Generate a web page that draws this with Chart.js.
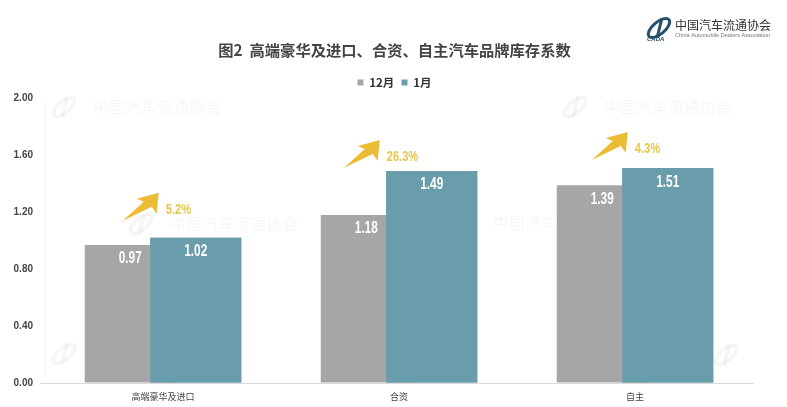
<!DOCTYPE html>
<html>
<head>
<meta charset="utf-8">
<style>
  html, body { margin: 0; padding: 0; background: #fff; }
  canvas { display: block; }
</style>
<script src="https://cdn.jsdelivr.net/npm/chart.js@4/dist/chart.umd.min.js"></script>
</head>
<body>
<canvas id="stockChart" width="787" height="407"></canvas>
<script>
const categories = ['高端豪华及进口', '合资', '自主'];
const dec = [0.97, 1.18, 1.39];
const jan = [1.02, 1.49, 1.51];
const changes = ['5.2%', '26.3%', '4.3%'];
const yTicks = [0, 0.4, 0.8, 1.2, 1.6, 2.0];

const GRAY = '#a6a6a6';
const TEAL = '#6a9dab';
const CJK = '"Noto Sans CJK SC", "Noto Sans", sans-serif';
const LATIN = '"Liberation Sans", sans-serif';

// arrow tip, relative to the top of the 1月 bar
const arrowOffsets = [[-37, -45], [-52, -31], [-40, -36]];
// faint watermarks behind the bars
const watermarks = [[50, 107], [561, 107], [127, 224], [450, 223], [50, 354]];
const watermarkLogos = [[712, 355]];

// the labels in the picture are a condensed bold face
function condensedText(ctx, text, x, y, align) {
  ctx.save();
  ctx.translate(x, y);
  ctx.scale(0.74, 1);
  ctx.textAlign = align;
  ctx.textBaseline = 'middle';
  ctx.fillText(text, 0, 0);
  ctx.restore();
}

function drawArrow(ctx, x, y) {
  ctx.beginPath();
  ctx.moveTo(x, y);
  ctx.lineTo(x - 2, y + 21);
  ctx.lineTo(x - 7, y + 14);
  ctx.lineTo(x - 36, y + 28);
  ctx.lineTo(x - 15, y + 9);
  ctx.lineTo(x - 22, y + 6);
  ctx.closePath();
  ctx.fillStyle = '#ecbc37';
  ctx.fill();
}

function drawSwoosh(ctx, x, y, color, lineWidth) {
  ctx.save();
  ctx.strokeStyle = color;
  ctx.lineWidth = lineWidth;
  ctx.beginPath();
  ctx.ellipse(x, y, 13, 6, -0.7, 0, Math.PI * 2);
  ctx.stroke();
  ctx.beginPath();
  ctx.moveTo(x - 2, y + 10);
  ctx.lineTo(x + 3, y - 10);
  ctx.stroke();
  ctx.restore();
}

// watermark sits under the bars
const watermarkPlugin = {
  id: 'watermark',
  beforeDatasetsDraw(chart) {
    const ctx = chart.ctx;
    ctx.save();
    ctx.textBaseline = 'middle';
    ctx.textAlign = 'left';
    ctx.font = '16px ' + CJK;
    ctx.fillStyle = 'rgba(0,0,0,0.035)';
    watermarks.forEach(function(w) {
      drawSwoosh(ctx, w[0] + 14, w[1], 'rgba(0,0,0,0.035)', 4);
      ctx.fillText('中国汽车流通协会', w[0] + 43, w[1]);
    });
    watermarkLogos.forEach(function(w) {
      drawSwoosh(ctx, w[0] + 14, w[1], 'rgba(0,0,0,0.035)', 4);
    });
    ctx.restore();
  }
};

const overlayPlugin = {
  id: 'overlay',
  afterDatasetsDraw(chart) {
    const ctx = chart.ctx;
    // 1月 bars have to lie over the 12月 bars
    chart.getDatasetMeta(1).controller.draw();

    ctx.save();
    ctx.font = 'bold 16px ' + LATIN;
    ctx.fillStyle = '#fff';
    [0, 1].forEach(function(i) {
      const values = chart.data.datasets[i].data;
      chart.getDatasetMeta(i).data.forEach(function(bar, k) {
        condensedText(ctx, values[k].toFixed(2), bar.x, bar.y + 14, 'center');
      });
    });

    chart.getDatasetMeta(1).data.forEach(function(bar, k) {
      const tipX = bar.x + arrowOffsets[k][0];
      const tipY = bar.y + arrowOffsets[k][1];
      drawArrow(ctx, tipX, tipY);
      ctx.font = 'bold 15px ' + LATIN;
      ctx.fillStyle = '#e6c84e';
      condensedText(ctx, changes[k], tipX + 7, tipY + 17, 'left');
    });
    ctx.restore();
  },
  afterDraw(chart) {
    // logo, top right
    const ctx = chart.ctx;
    ctx.save();
    drawSwoosh(ctx, 659, 28, '#24506b', 3);
    ctx.fillStyle = '#24506b';
    ctx.font = 'italic bold 6px ' + LATIN;
    ctx.textAlign = 'left';
    ctx.textBaseline = 'middle';
    ctx.fillText('CADA', 647, 39);
    ctx.fillStyle = '#333';
    ctx.font = '12px ' + CJK;
    ctx.fillText('中国汽车流通协会', 675, 25);
    ctx.fillStyle = '#777';
    ctx.font = '5.6px ' + LATIN;
    ctx.fillText('China Automobile Dealers Association', 675, 35);
    ctx.restore();
  }
};

new Chart(document.getElementById('stockChart'), {
  type: 'bar',
  data: {
    labels: categories,
    datasets: [
      { label: '12月', data: dec, backgroundColor: GRAY },
      { label: '1月', data: jan, backgroundColor: TEAL }
    ]
  },
  options: {
    responsive: false,
    animation: false,
    // barPercentage above 1 makes the two bars overlap
    categoryPercentage: 0.555,
    barPercentage: 1.39,
    layout: { padding: { top: 41, right: 0, bottom: 0, left: 2 } },
    plugins: {
      title: {
        display: true,
        text: '图2  高端豪华及进口、合资、自主汽车品牌库存系数',
        color: '#444',
        font: { family: CJK, size: 15.3, weight: 'bold' },
        padding: { top: 0, bottom: 15.5 }
      },
      legend: {
        position: 'top',
        labels: {
          boxWidth: 6,
          boxHeight: 6,
          padding: 2,
          color: '#333',
          font: { family: CJK, size: 11.5, weight: 'bold' },
          // padding is small to fit the height, spaces open the gap between the items
          generateLabels(chart) {
            return Chart.defaults.plugins.legend.labels.generateLabels(chart).map(function(item, i) {
              if (i === 0) item.text += '  ';
              return item;
            });
          }
        }
      },
      tooltip: { enabled: false }
    },
    scales: {
      x: {
        grid: { display: false },
        border: { color: '#d9d9d9' },
        afterFit(axis) { axis.height = 24; },
        ticks: { color: '#444', padding: 0, font: { family: CJK, size: 9 }, maxRotation: 0 }
      },
      y: {
        min: 0,
        max: 2,
        afterBuildTicks(axis) {
          axis.ticks = yTicks.map(function(v) { return { value: v }; });
        },
        afterFit(axis) { axis.width = 43; },
        grid: {
          drawOnChartArea: false,
          tickLength: 5,
          color: function(c) { return c.tick && c.tick.value === 0 ? '#d9d9d9' : 'transparent'; }
        },
        border: { color: '#f5f5f5' },
        ticks: {
          color: '#444',
          padding: 7,
          font: { family: LATIN, size: 10, weight: 'bold' },
          callback: function(v) { return Number(v).toFixed(2); }
        }
      },
      // empty axis, keeps the title centred on the whole picture
      rightMargin: {
        position: 'right',
        afterFit(axis) { axis.width = 34; },
        grid: { display: false },
        border: { display: false },
        ticks: { display: false }
      }
    }
  },
  plugins: [watermarkPlugin, overlayPlugin]
});
</script>
</body>
</html>
